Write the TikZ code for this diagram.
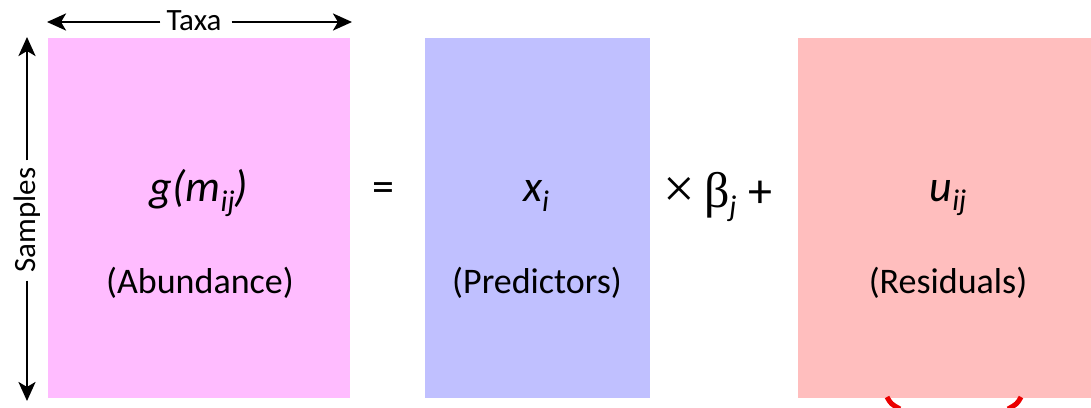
\documentclass[tikz,border=0pt]{standalone}
\usepackage{fontspec}
\setmainfont{Carlito}
\newfontfamily\greekfont{Liberation Serif}
\usetikzlibrary{arrows.meta}
\definecolor{pinkbox}{RGB}{255,188,255}
\definecolor{bluebox}{RGB}{192,192,255}
\definecolor{redbox}{RGB}{255,190,190}
\definecolor{arcred}{RGB}{235,0,0}
\newcommand{\subtx}[1]{\raisebox{-0.22em}{\fontsize{30}{32}\selectfont\itshape #1}}
\tikzset{
  eqtext/.style={inner sep=0pt, font=\fontsize{44}{48}\selectfont},
  captext/.style={inner sep=0pt, font=\fontsize{36}{40}\selectfont},
  axtext/.style={inner sep=0pt, font=\fontsize{31}{34}\selectfont},
  axarrow/.style={line width=2.8pt, -{Stealth[length=19pt,width=17pt,inset=5pt]}},
  redarc/.style={line width=5pt, arcred}
}
\begin{document}
\begin{tikzpicture}[x=1pt,y=-1pt]
\useasboundingbox (0,0) rectangle (1091,407);
% boxes
\fill[pinkbox] (48,38) rectangle (350,398);
\fill[bluebox] (425,38) rectangle (650,398);
\fill[redbox] (798,38) rectangle (1091,398);
% equation texts
\node[eqtext] (g) at (199,193) {\itshape g(m\subtx{ij})};
\node[captext] (ab) at (200,283) {(Abundance)};
\node[eqtext] (eq) at (383,192) {=};
\node[eqtext] (x) at (536,196) {\itshape x\subtx{i}};
\node[captext] (pr) at (537,283) {(Predictors)};
\node[eqtext] (bt) at (718,197) {{\fontsize{56}{60}\selectfont\greekfont ×}\hspace{9pt}{\fontsize{50}{54}\selectfont\greekfont β}\subtx{j}\hspace{12pt}{\fontsize{48}{52}\selectfont +}};
\node[eqtext] (u) at (948,198) {\itshape u\subtx{ij}};
\node[captext] (re) at (948,283) {(Residuals)};
% axis labels
\node[axtext] (taxa) at (194,21) {Taxa};
\coordinate (tl) at (47,22);
\coordinate (tr) at (352,22);
\draw[axarrow] ([xshift=-6pt]taxa.west |- tl) -- (tl);
\draw[axarrow] ([xshift=10pt]taxa.east |- tr) -- (tr);
\node[axtext, rotate=90] (samp) at (27,220) {Samples};
\coordinate (st) at (27,37);
\coordinate (sb) at (27,401);
\draw[axarrow] ([yshift=7pt]samp.east) -- (st);
\draw[axarrow] ([yshift=-8pt]samp.west) -- (sb);
% red arcs at bottom
\draw[redarc] (887,397) .. controls (891,404) .. (900,409);
\draw[redarc] (1021,397) .. controls (1017,404) .. (1008,409);
\end{tikzpicture}
\end{document}
